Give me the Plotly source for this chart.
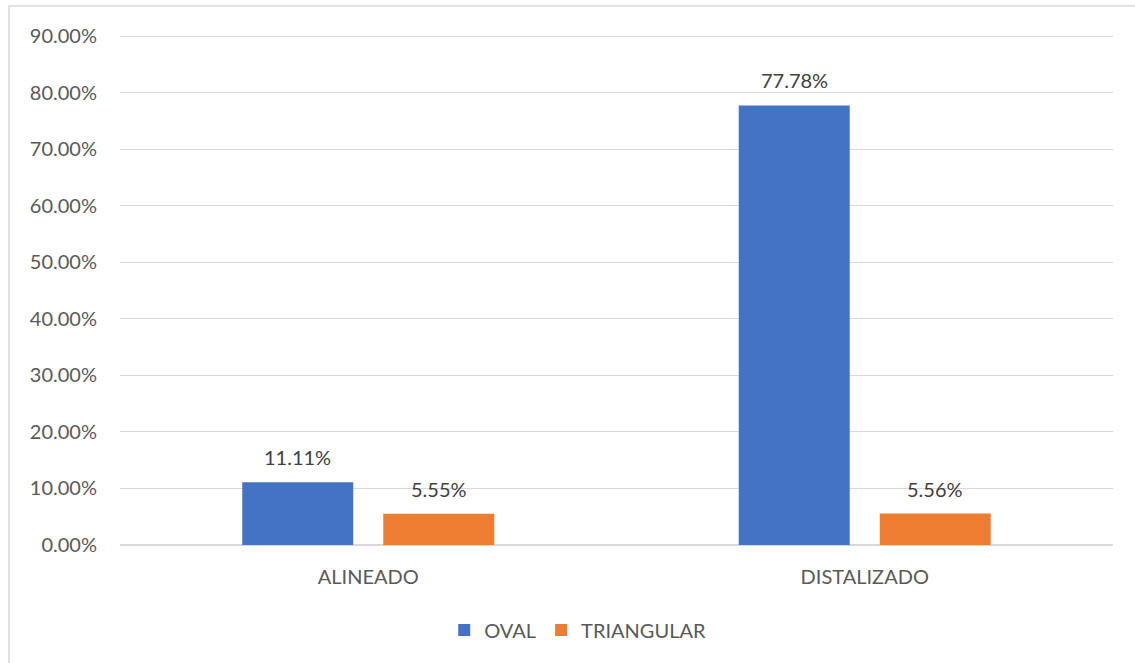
import plotly.graph_objects as go

categories = ["ALINEADO", "DISTALIZADO"]
oval = [0.1111, 0.7778]
triangular = [0.0555, 0.0556]
series_names = ["OVAL", "TRIANGULAR"]
colors = ["#4472C4", "#ED7D31"]

W, H = 1135, 663
L, R, T, B = 120, 22, 35, 118

fig = go.Figure()
for name, vals, col in zip(series_names, [oval, triangular], colors):
    fig.add_trace(go.Bar(
        x=categories, y=vals, name=name, marker_color=col,
        marker_line_width=0,
        text=[f"{v:.2%}" for v in vals], textposition="none",
        hoverinfo="skip",
    ))

# value labels above each bar
offsets = [-0.142, 0.142]
for i, vals in enumerate([oval, triangular]):
    for j, v in enumerate(vals):
        fig.add_annotation(
            x=j + offsets[i], y=v, xref="x", yref="y",
            text=f"{v:.2%}", showarrow=False, yanchor="bottom",
            yshift=11, font=dict(family="Lato", size=20, color="#404040"),
        )

pw = W - L - R
ph = H - T - B
# chart-area border
fig.add_shape(
    type="rect", xref="paper", yref="paper",
    x0=(9 - L) / pw, x1=(W + 20 - L) / pw,
    y0=(H - B - (H + 20)) / ph, y1=(H - B - 6) / ph,
    line=dict(color="#d9d9d9", width=1.5), fillcolor="rgba(0,0,0,0)",
    layer="below",
)

fig.update_layout(
    width=W, height=H, autosize=False,
    margin=dict(l=L, r=R, t=T, b=B),
    paper_bgcolor="white", plot_bgcolor="white",
    barmode="group", bargap=0.432, bargroupgap=0.213,
    font=dict(family="Lato", size=20, color="#595959"),
    showlegend=True,
    legend=dict(
        orientation="h", xref="container", yref="container",
        x=0.509, xanchor="center", y=(H - 630) / H, yanchor="middle",
        font=dict(size=20, color="#595959"), itemwidth=30,
        traceorder="normal",
    ),
    xaxis=dict(
        type="category", showgrid=False, showline=False, ticks="",
        tickfont=dict(size=20, color="#595959"), ticklabelstandoff=18,
    ),
    yaxis=dict(
        range=[0, 0.9025], tickvals=[i / 10 for i in range(10)],
        tickformat=".2%",
        showgrid=True, gridcolor="#d9d9d9", gridwidth=1.3,
        zeroline=True, zerolinecolor="#d9d9d9", zerolinewidth=1.5,
        showline=False, ticks="", ticklabelstandoff=22,
        tickfont=dict(size=20, color="#595959"),
    ),
)

fig.write_html("out.html")
